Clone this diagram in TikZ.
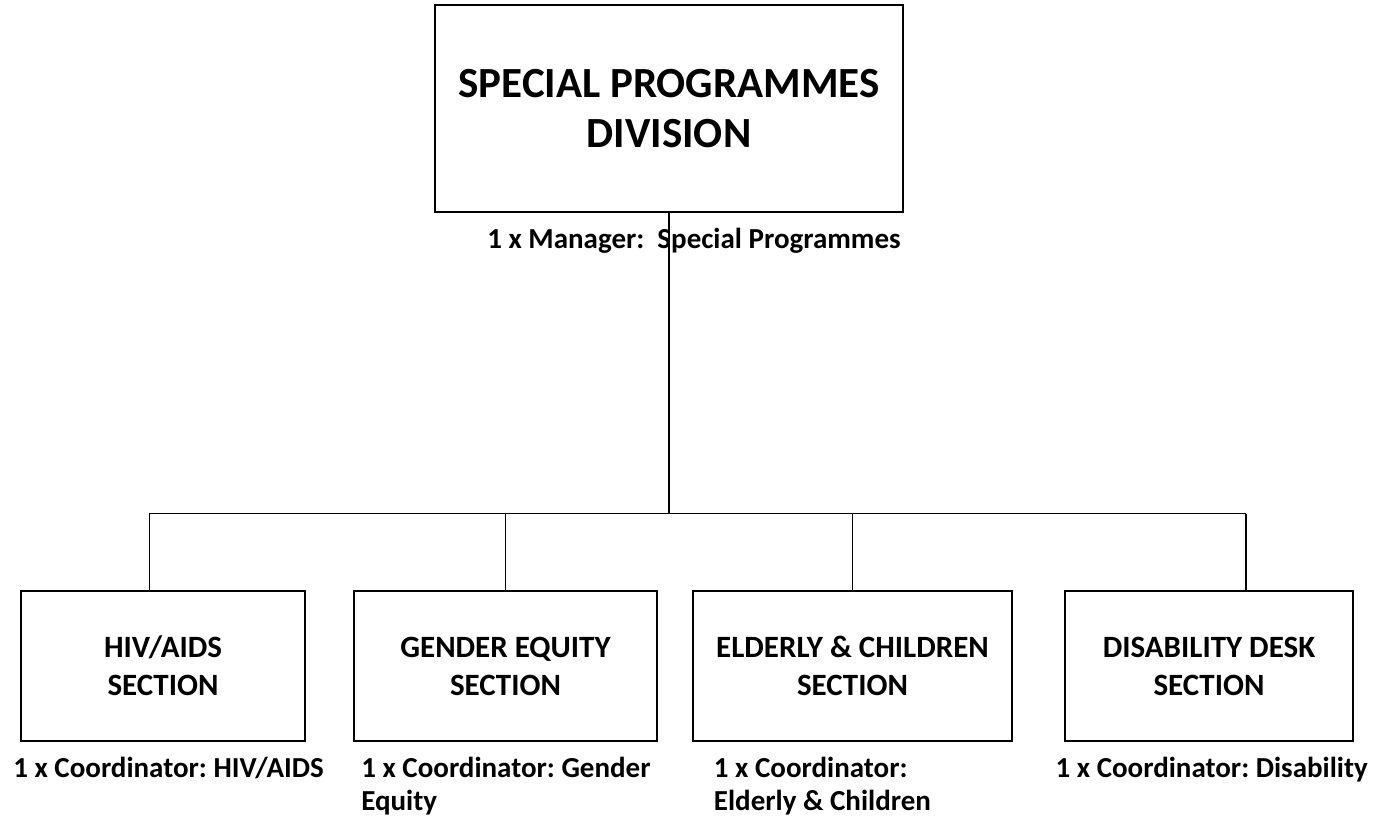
\documentclass[tikz,border=0pt]{standalone}
\usepackage{fontspec}
\setmainfont{Carlito}
\frenchspacing

\begin{document}
\begin{tikzpicture}[x=1pt, y=-1pt, line width=1.3pt,
  unit/.style={draw, inner sep=0pt, align=center, minimum height=150pt,
    font=\fontsize{31}{38}\selectfont\bfseries},
  post/.style={inner sep=0pt, align=left, font=\fontsize{29}{33}\selectfont\bfseries}]
\useasboundingbox (0,0) rectangle (1385,817);

% division and its manager
\node[unit, minimum width=468pt, minimum height=207pt,
  font=\fontsize{43}{50}\selectfont\bfseries] (division) at (669,108.5) {SPECIAL PROGRAMMES\\DIVISION};
\node[post, anchor=base west] (manager) at (486.7,248) {1 x Manager:\ \ Special Programmes};

% sections
\node[unit, minimum width=284pt] (hiv) at (163,666) {HIV/AIDS\\SECTION};
\node[unit, minimum width=303pt] (gender) at (505.5,666) {GENDER EQUITY\\SECTION};
\node[unit, minimum width=319pt] (elderly) at (852.5,666) {ELDERLY \& CHILDREN\\SECTION};
\node[unit, minimum width=288pt] (disability) at (1209,666) {DISABILITY DESK\\SECTION};

% coordinators
\node[post, anchor=north west] (hivpost) at (12.7,756) {1 x Coordinator: HIV/AIDS};
\node[post, anchor=north west] (genderpost) at (360.7,756) {1 x Coordinator: Gender\\Equity};
\node[post, anchor=north west] (elderlypost) at (713.3,756) {1 x Coordinator:\\Elderly \& Children};
\node[post, anchor=north west] (disabilitypost) at (1055,756) {1 x Coordinator: Disability};

% connectors
\coordinate (busL) at (149.3,513.7);
\coordinate (busR) at (1246,513.7);
\draw (division.south) -- (division.south |- busL);
\draw (busL) -- (busR);
\draw (busL) -- (busL |- hiv.north);
\draw (gender.north |- busL) -- (gender.north);
\draw (elderly.north |- busL) -- (elderly.north);
\draw (busR) -- (busR |- disability.north);
\end{tikzpicture}
\end{document}
